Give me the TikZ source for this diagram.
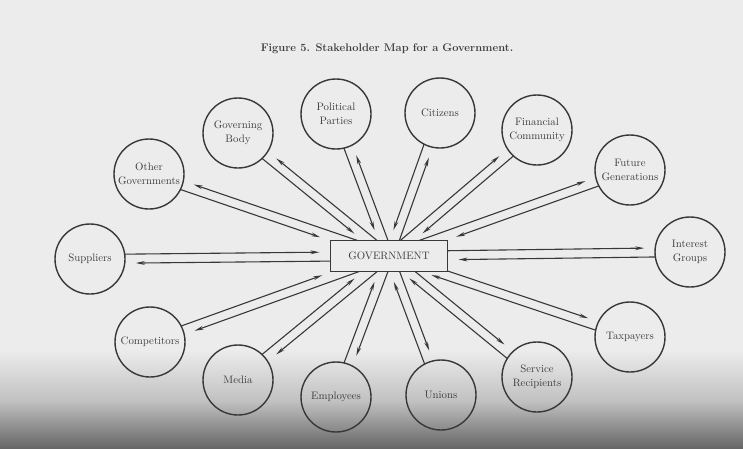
\documentclass[tikz,border=0pt]{standalone}
\usetikzlibrary{calc,intersections,arrows.meta}
\definecolor{paper}{HTML}{ECECEC}
\definecolor{ink}{HTML}{383838}
\definecolor{txt}{HTML}{3E3E3E}
\definecolor{shadeA}{HTML}{C0C0C0}
\definecolor{shadeB}{HTML}{666666}
\newcommand\stkfont{\fontsize{10.8}{14}\selectfont}
\begin{document}
\begin{tikzpicture}[x=1pt,y=-1pt,
  stake/.style={circle, draw=ink, line width=1.4pt, minimum size=70pt, inner sep=0pt,
    align=center, font=\stkfont, text=txt},
  govbox/.style={draw=ink, line width=1.4pt, minimum width=117pt, minimum height=31pt,
    inner sep=0pt, font=\stkfont, text=txt},
  link/.style={draw=ink, line width=1.1pt, -{Stealth[length=9pt,width=3.8pt]}, shorten >=11pt},
]
\useasboundingbox (0,0) rectangle (743,448);
\fill[paper] (0,0) rectangle (743,448);
\shade[top color=paper, bottom color=shadeA] (0,350) rectangle (743,402);
\shade[top color=shadeA, bottom color=shadeB] (0,401.5) rectangle (743,448);

\node[font=\bfseries\fontsize{11.1}{13}\selectfont, text=txt] (title) at (387,49)
  {Figure 5. Stakeholder Map for a Government.};

\node[govbox, name path=govpath] (gov) at (389,256) {GOVERNMENT};

\node[stake, name path=c-sup] (sup) at (90,259) {Suppliers};
\node[stake, name path=c-oth] (oth) at (149,174) {Other\\Governments};
\node[stake, name path=c-gbd] (gbd) at (238,133) {Governing\\Body};
\node[stake, name path=c-pol] (pol) at (336,114) {Political\\Parties};
\node[stake, name path=c-cit] (cit) at (440,113) {Citizens};
\node[stake, name path=c-fin] (fin) at (537,130) {Financial\\Community};
\node[stake, name path=c-fut] (fut) at (630,170) {Future\\Generations};
\node[stake, name path=c-int] (int) at (690,252) {Interest\\Groups};
\node[stake, name path=c-tax] (tax) at (630,337) {Taxpayers};
\node[stake, name path=c-ser] (ser) at (537,377) {Service\\Recipients};
\node[stake, name path=c-uni] (uni) at (441,395) {Unions};
\node[stake, name path=c-emp] (emp) at (336,397) {Employees};
\node[stake, name path=c-med] (med) at (238,380) {Media};
\node[stake, name path=c-com] (com) at (150,342) {Competitors};

\foreach \s/\a/\b in {sup/-90/90, oth/90/-90, gbd/90/-90, pol/90/-90, cit/90/-90,
    fin/-90/90, fut/-90/90, int/-90/90, tax/-90/90, ser/-90/90, uni/-90/90,
    emp/-90/90, med/-90/90, com/-90/90}{
  \path[name path=lo] ($(\s)!4.5pt!\a:(gov)$) -- ($(gov)!4.5pt!\b:(\s)$);
  \path[name path=li] ($(\s)!4.5pt!\b:(gov)$) -- ($(gov)!4.5pt!\a:(\s)$);
  \path[name intersections={of=lo and c-\s, by=\s-oc}];
  \path[name intersections={of=lo and govpath, by=\s-og}];
  \path[name intersections={of=li and c-\s, by=\s-ic}];
  \path[name intersections={of=li and govpath, by=\s-ig}];
  \draw[link] (\s-og) -- (\s-oc);
  \draw[link] (\s-ic) -- (\s-ig);
}
\end{tikzpicture}
\end{document}
